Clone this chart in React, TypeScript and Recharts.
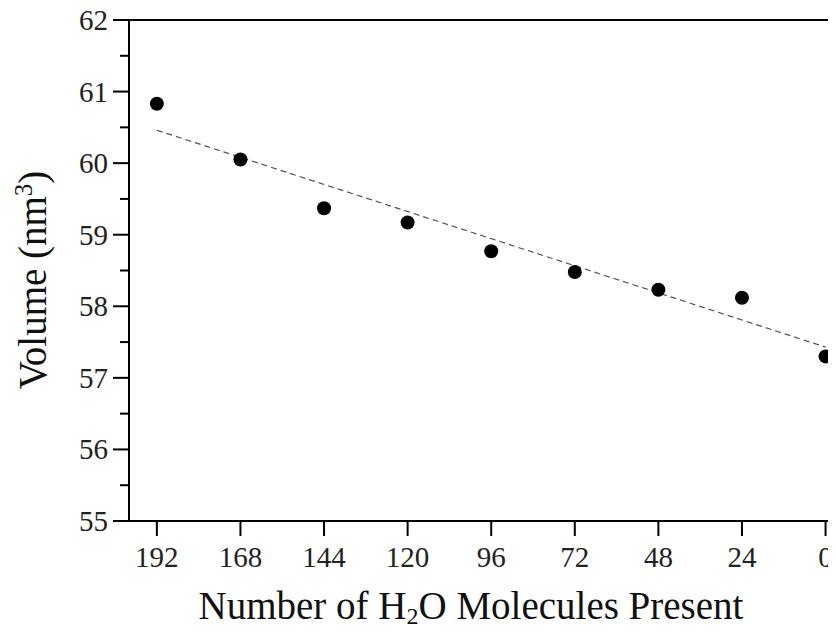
import React from 'react';
import { ScatterChart, Scatter, XAxis, YAxis, ReferenceLine } from 'recharts';

const waterCounts = [192, 168, 144, 120, 96, 72, 48, 24, 0];
const volumes = [60.83, 60.05, 59.37, 59.17, 58.77, 58.48, 58.23, 58.12, 57.3];
const trendX = [192, 0];
const trendY = [60.46, 57.43];
const xTicks = [192, 168, 144, 120, 96, 72, 48, 24, 0];
const yTicks = [55, 55.5, 56, 56.5, 57, 57.5, 58, 58.5, 59, 59.5, 60, 60.5, 61, 61.5, 62];

const points = waterCounts.map((x, i) => ({ x, y: volumes[i] }));
const trend = trendX.map((x, i) => ({ x, y: trendY[i] }));

const FONT = '"Liberation Serif", serif';
const AXIS_X = 129;
const AXIS_Y = 521;
const textStyle = { fontFamily: FONT };

const YTick = (props: any) => {
    const { y, payload } = props;
    const major = Number.isInteger(payload.value);
    return (
        <g>
            <line x1={AXIS_X - (major ? 16 : 9)} x2={AXIS_X} y1={y} y2={y} stroke="#000" strokeWidth={2} />
            {major && (
                <text x={AXIS_X - 21} y={y + 10} textAnchor="end" fontFamily={FONT} style={textStyle} fontSize={29} fill="#222">
                    {payload.value}
                </text>
            )}
        </g>
    );
};

const XTick = (props: any) => {
    const { x, payload } = props;
    return (
        <g>
            <line x1={x} x2={x} y1={AXIS_Y} y2={AXIS_Y + 15} stroke="#000" strokeWidth={2} />
            <text x={x} y={AXIS_Y + 46} textAnchor="middle" fontFamily={FONT} style={textStyle} fontSize={29} fill="#222">
                {payload.value}
            </text>
        </g>
    );
};

const Dot = (props: any) => <circle cx={props.cx} cy={props.cy} r={7} fill="#000" />;

const App: React.FC = () => {
    return (
        <div style={{ margin: -8, width: 836, height: 634, overflow: 'hidden', background: '#fff' }}>
            <ScatterChart width={836} height={634} margin={{ top: 20, right: 0, bottom: 0, left: 0 }}>
                <XAxis
                    type="number"
                    dataKey="x"
                    domain={[-3, 200]}
                    reversed
                    ticks={xTicks}
                    tick={<XTick />}
                    tickLine={false}
                    axisLine={{ stroke: '#000', strokeWidth: 2 }}
                    height={113}
                    allowDataOverflow
                    label={{
                        content: () => (
                            <text x={471} y={619} textAnchor="middle" fontFamily={FONT} style={textStyle} fontSize={39} fill="#111">
                                Number of H
                                <tspan dy={5} fontSize={24}>2</tspan>
                                <tspan dy={-5}>O Molecules Present</tspan>
                            </text>
                        ),
                    }}
                />
                <YAxis
                    type="number"
                    dataKey="y"
                    domain={[55, 62]}
                    ticks={yTicks}
                    tick={<YTick />}
                    tickLine={false}
                    axisLine={{ stroke: '#000', strokeWidth: 2 }}
                    width={AXIS_X}
                    allowDataOverflow
                    label={{
                        content: () => (
                            <text x={46} y={280} transform="rotate(-90 46 280)" textAnchor="middle" fontFamily={FONT} style={textStyle} fontSize={39} fill="#111">
                                Volume (nm
                                <tspan dy={-14} fontSize={25}>3</tspan>
                                <tspan dy={14}>)</tspan>
                            </text>
                        ),
                    }}
                />
                <ReferenceLine y={62} stroke="#000" strokeWidth={2} />
                <Scatter
                    data={trend}
                    line={{ stroke: '#555', strokeWidth: 1.2, strokeDasharray: '6 4' }}
                    shape={() => <g />}
                    isAnimationActive={false}
                />
                <Scatter data={points} shape={<Dot />} isAnimationActive={false} />
            </ScatterChart>
        </div>
    );
};

export default App;
